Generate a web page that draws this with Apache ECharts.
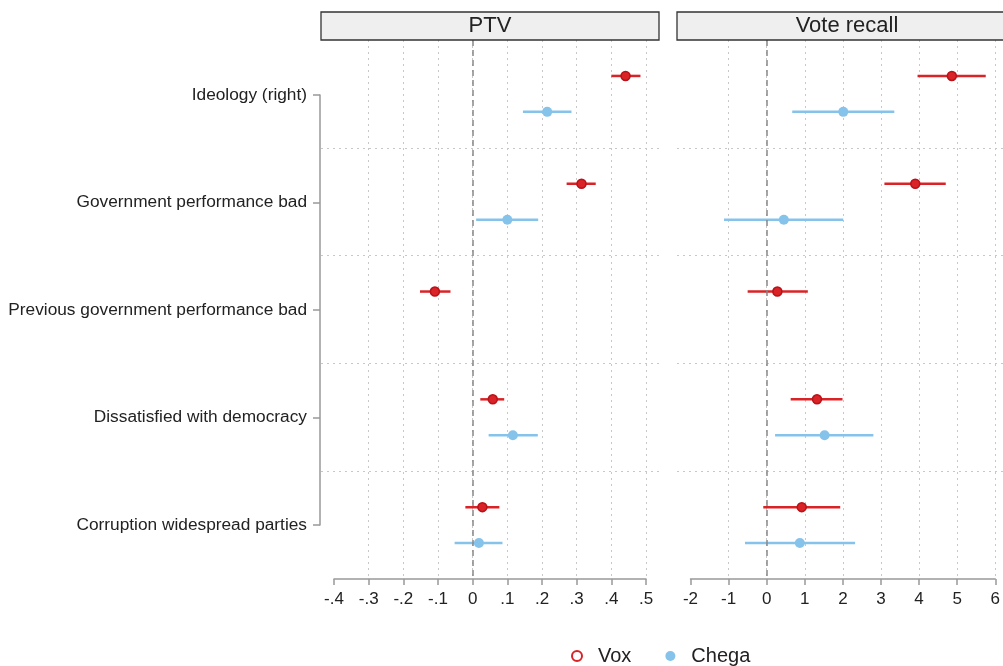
<!DOCTYPE html>
<html>
<head>
<meta charset="utf-8">
<script src="https://cdn.jsdelivr.net/npm/echarts@6/dist/echarts.min.js"></script>
<style>
  html, body { margin: 0; padding: 0; background: #fff; }
  #main { width: 1003px; height: 666px; }
</style>
</head>
<body>
<div id="main"></div>
<script>
// categories, top to bottom
var categories = ['Ideology (right)', 'Government performance bad', 'Previous government performance bad',
                  'Dissatisfied with democracy', 'Corruption widespread parties'];

// PTV estimates + 95% CI
var ptvVox      = [0.441, 0.314, -0.109, 0.058, 0.028];
var ptvVoxLo    = [0.400, 0.271, -0.152, 0.022, -0.021];
var ptvVoxHi    = [0.484, 0.355, -0.064, 0.091, 0.077];
var ptvChega    = [0.215, 0.100, null, 0.116, 0.018];
var ptvChegaLo  = [0.145, 0.010, null, 0.046, -0.052];
var ptvChegaHi  = [0.285, 0.189, null, 0.188, 0.086];

// Vote recall estimates + 95% CI
var voteVox     = [4.86, 3.90, 0.28, 1.32, 0.92];
var voteVoxLo   = [3.96, 3.09, -0.50, 0.63, -0.09];
var voteVoxHi   = [5.75, 4.70, 1.08, 1.99, 1.93];
var voteChega   = [2.01, 0.45, null, 1.52, 0.87];
var voteChegaLo = [0.67, -1.12, null, 0.22, -0.57];
var voteChegaHi = [3.35, 2.01, null, 2.80, 2.32];

var ptvTicks  = [-0.4, 0.5, 0.1];
var voteTicks = [-2, 6, 1];

var RED = '#d92326', BLUE = '#86c3ea';
var FONT = 'Liberation Sans, Arial, sans-serif';

// row offsets inside each category band (band = 1 unit)
function rowY(i, who) { return i + (who === 'Vox' ? 1 / 3 : 2 / 3); }

function pts(est, who) {
  var out = [];
  for (var i = 0; i < est.length; i++) if (est[i] != null) out.push([est[i], rowY(i, who)]);
  return out;
}
function cis(lo, hi, who) {
  var out = [];
  for (var i = 0; i < lo.length; i++) if (lo[i] != null) out.push([lo[i], hi[i], rowY(i, who)]);
  return out;
}

function ciRender(color) {
  return function (params, api) {
    var a = api.coord([api.value(0), api.value(2)]);
    var b = api.coord([api.value(1), api.value(2)]);
    return { type: 'line', shape: { x1: a[0], y1: a[1], x2: b[0], y2: b[1] },
             style: { stroke: color, lineWidth: 2.5 } };
  };
}

function fmtPtv(v) {
  if (Math.abs(v) < 1e-9) return '0';
  var s = (Math.round(v * 10) / 10).toString();
  return s.replace('0.', '.');
}

var chart = echarts.init(document.getElementById('main'));

var dotted = { show: true, showMinLine: false, lineStyle: { color: '#c8c8c8', type: [2, 4], width: 1 } };

function dataX(t, idx, fmt) {
  return {
    type: 'value', gridIndex: idx, min: t[0], max: t[1], interval: t[2], position: 'bottom',
    axisLine: { show: true, onZero: false, lineStyle: { color: '#999', width: 1.5 } },
    axisTick: { show: true, length: 6, lineStyle: { color: '#999', width: 1.5 } },
    axisLabel: { color: '#222', fontSize: 17, fontFamily: FONT, margin: 12, formatter: fmt },
    splitLine: dotted
  };
}
function hiddenY(idx) {
  return { type: 'value', gridIndex: idx, min: 0, max: 5, inverse: true, show: false };
}
function bgY(idx) {
  return {
    type: 'value', gridIndex: idx, min: 0, max: 5, interval: 1, inverse: true,
    axisLine: { show: false }, axisTick: { show: false }, axisLabel: { show: false },
    splitLine: { show: true, showMinLine: false, showMaxLine: false,
                 lineStyle: { color: '#c8c8c8', type: [2, 4], width: 1 } }
  };
}

var zeroLine = {
  silent: true, symbol: 'none', label: { show: false },
  lineStyle: { color: '#888', type: [6, 4], width: 1.5 },
  data: [{ xAxis: 0 }]
};

function panelSeries(xi, vox, voxLo, voxHi, chega, chegaLo, chegaHi) {
  return [
    { type: 'custom', name: 'VoxCI', xAxisIndex: xi, yAxisIndex: xi, renderItem: ciRender(RED),
      encode: { x: [0, 1], y: 2 }, data: cis(voxLo, voxHi, 'Vox'), z: 3, silent: true, markLine: zeroLine },
    { type: 'custom', name: 'ChegaCI', xAxisIndex: xi, yAxisIndex: xi, renderItem: ciRender(BLUE),
      encode: { x: [0, 1], y: 2 }, data: cis(chegaLo, chegaHi, 'Chega'), z: 3, silent: true },
    { type: 'scatter', name: 'Vox', xAxisIndex: xi, yAxisIndex: xi, symbolSize: 9, z: 4,
      itemStyle: { color: RED, borderColor: '#b8121a', borderWidth: 1.5, opacity: 1 },
      data: pts(vox, 'Vox') },
    { type: 'scatter', name: 'Chega', xAxisIndex: xi, yAxisIndex: xi, symbolSize: 10, z: 4,
      itemStyle: { color: BLUE, opacity: 1 }, data: pts(chega, 'Chega') }
  ];
}

var option = {
  animation: false,
  backgroundColor: '#fff',
  textStyle: { fontFamily: FONT },
  grid: [
    { left: 334, width: 312, top: 40, height: 539 },   // PTV data
    { left: 321, width: 338, top: 40, height: 539 },   // PTV background
    { left: 690.5, width: 312, top: 40, height: 539 }, // vote data
    { left: 677, width: 338, top: 40, height: 539 },   // vote background
    { left: 320, width: 1, top: 95, height: 430 }      // category labels
  ],
  xAxis: [
    dataX(ptvTicks, 0, fmtPtv),
    { type: 'value', gridIndex: 1, min: 0, max: 1, show: false },
    dataX(voteTicks, 2, function (v) { return String(v); }),
    { type: 'value', gridIndex: 3, min: 0, max: 1, show: false },
    { type: 'value', gridIndex: 4, min: 0, max: 1, show: false }
  ],
  yAxis: [
    hiddenY(0), bgY(1), hiddenY(2), bgY(3),
    {
      type: 'category', gridIndex: 4, data: categories, inverse: true, boundaryGap: false,
      axisLine: { show: true, lineStyle: { color: '#999', width: 1.5 } },
      axisTick: { show: true, length: 7, lineStyle: { color: '#999', width: 1.5 } },
      axisLabel: { color: '#222', fontSize: 17.3, fontFamily: FONT, margin: 13 },
      splitLine: { show: false }
    }
  ],
  legend: {
    left: 566, top: 641, itemGap: 34, itemWidth: 10, itemHeight: 10,
    textStyle: { fontSize: 20, color: '#222', fontFamily: FONT, padding: [0, 0, 0, 11] },
    data: [
      { name: 'Vox', icon: 'circle', itemStyle: { color: '#fff', borderColor: RED, borderWidth: 2 } },
      { name: 'Chega', icon: 'circle', itemStyle: { color: BLUE } }
    ]
  },
  graphic: [
    { type: 'rect', shape: { x: 321, y: 12, width: 338, height: 28 },
      style: { fill: '#efefef', stroke: '#333', lineWidth: 1.3 }, z: 10 },
    { type: 'text', x: 490, y: 26, style: { text: 'PTV', font: '22px ' + FONT, fill: '#222',
      textAlign: 'center', textVerticalAlign: 'middle' }, z: 11 },
    { type: 'rect', shape: { x: 677, y: 12, width: 340, height: 28 },
      style: { fill: '#efefef', stroke: '#333', lineWidth: 1.3 }, z: 10 },
    { type: 'text', x: 847, y: 26, style: { text: 'Vote recall', font: '22px ' + FONT, fill: '#222',
      textAlign: 'center', textVerticalAlign: 'middle' }, z: 11 }
  ],
  series: [].concat(
    panelSeries(0, ptvVox, ptvVoxLo, ptvVoxHi, ptvChega, ptvChegaLo, ptvChegaHi),
    panelSeries(2, voteVox, voteVoxLo, voteVoxHi, voteChega, voteChegaLo, voteChegaHi)
  )
};

chart.setOption(option);
</script>
</body>
</html>
